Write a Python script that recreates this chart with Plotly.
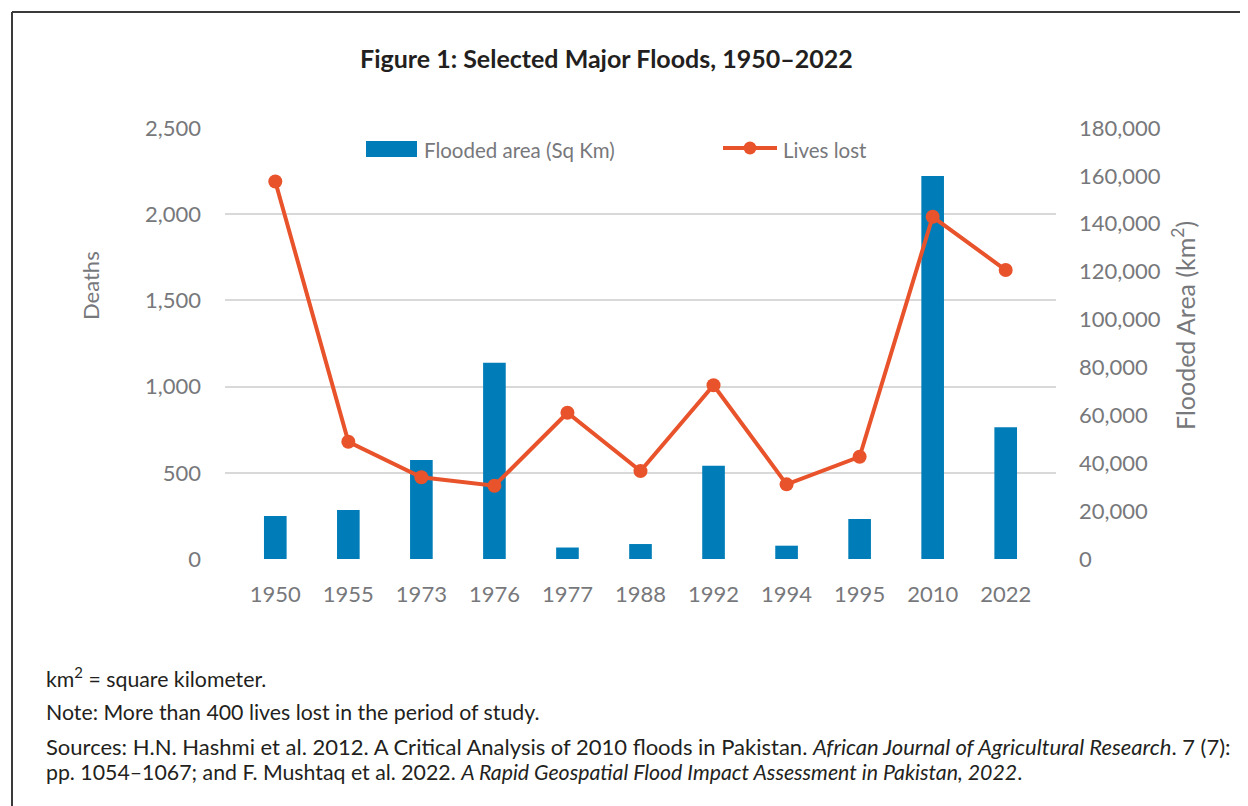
import plotly.graph_objects as go

years = ["1950", "1955", "1973", "1976", "1977", "1988", "1992", "1994", "1995", "2010", "2022"]
flooded_area = [17920, 20480, 41350, 81920, 4800, 6250, 38960, 5560, 16700, 160000, 55000]
lives_lost = [2190, 680, 474, 425, 848, 510, 1008, 433, 593, 1985, 1676]

BLUE = "#007DB8"
ORANGE = "#E9532B"
GRAY = "#77787B"
DARK = "#231F20"
FONT = "Lato"

OFF = 8  # page body margin
W, H = 1248 - OFF, 806 - OFF
L, R, T, B = 225 - OFF, 1056 - OFF, 128 - OFF, 559 - OFF


def px(x):
    return (x - OFF - L) / (R - L)


def py(y):
    return (B - (y - OFF)) / (B - T)


fig = go.Figure()
fig.add_trace(go.Bar(x=years, y=flooded_area, name="Flooded area (Sq Km)",
                     marker=dict(color=BLUE, line=dict(width=0)), yaxis="y",
                     showlegend=False))
fig.add_trace(go.Scatter(x=years, y=lives_lost, name="Lives lost", mode="lines+markers",
                         line=dict(color=ORANGE, width=4),
                         marker=dict(color=ORANGE, size=14), yaxis="y2",
                         showlegend=False))

shapes = [
    dict(type="line", xref="paper", yref="paper", x0=px(12), x1=px(12), y0=py(820), y1=py(12),
         line=dict(color="#3a3a3a", width=2)),
    dict(type="line", xref="paper", yref="paper", x0=px(12), x1=px(1260), y0=py(12), y1=py(12),
         line=dict(color="#3a3a3a", width=2)),
    dict(type="rect", xref="paper", yref="paper", x0=px(366), x1=px(417), y0=py(157), y1=py(141),
         fillcolor=BLUE, line=dict(width=0)),
    dict(type="line", xref="paper", yref="paper", x0=px(723), x1=px(777), y0=py(148), y1=py(148),
         line=dict(color=ORANGE, width=4)),
    dict(type="circle", xref="paper", yref="paper", x0=px(743.5), x1=px(756.5), y0=py(154.5), y1=py(141.5),
         fillcolor=ORANGE, line=dict(width=0)),
]

NOTE = dict(family=FONT, size=21.3, color=DARK)
annotations = [
    dict(text="<b>Figure 1: Selected Major Floods, 1950–2022</b>", xref="paper", yref="paper",
         x=px(606), y=py(58), xanchor="center", yanchor="middle", showarrow=False,
         font=dict(family=FONT, size=25, color=DARK)),
    dict(text="Flooded area (Sq Km)", xref="paper", yref="paper", x=px(422), y=py(150),
         xanchor="left", yanchor="middle", showarrow=False, font=dict(family=FONT, size=20.5, color=GRAY)),
    dict(text="Lives lost", xref="paper", yref="paper", x=px(781), y=py(150),
         xanchor="left", yanchor="middle", showarrow=False, font=dict(family=FONT, size=20.5, color=GRAY)),
    dict(text="Deaths", xref="paper", yref="paper", x=px(90), y=py(286), textangle=-90,
         xanchor="center", yanchor="middle", showarrow=False, font=dict(family=FONT, size=22, color=GRAY)),
    dict(text="Flooded Area (km<sup>2</sup>)", xref="paper", yref="paper", x=px(1183), y=py(326), textangle=-90,
         xanchor="center", yanchor="middle", showarrow=False, font=dict(family=FONT, size=25, color=GRAY)),
    dict(text="km<sup>2</sup> = square kilometer.", xref="paper", yref="paper", x=px(44), y=py(677),
         xanchor="left", yanchor="middle", showarrow=False, font=NOTE),
    dict(text="Note: More than 400 lives lost in the period of study.", xref="paper", yref="paper", x=px(44), y=py(712),
         xanchor="left", yanchor="middle", showarrow=False, font=NOTE),
    dict(text="Sources: H.N. Hashmi et al. 2012. A Critical Analysis of 2010 floods in Pakistan. "
              "<i>African Journal of Agricultural Research</i>. 7 (7):",
         xref="paper", yref="paper", x=px(44), y=py(746),
         xanchor="left", yanchor="middle", showarrow=False,
         font=dict(family=FONT, size=22, color=DARK)),
    dict(text="pp. 1054–1067; and F. Mushtaq et al. 2022. <i>A Rapid Geospatial Flood Impact Assessment in Pakistan, 2022</i>.",
         xref="paper", yref="paper", x=px(44), y=py(772),
         xanchor="left", yanchor="middle", showarrow=False, font=NOTE),
]

TICKF = dict(family=FONT, size=22, color=GRAY)
fig.update_layout(
    width=W, height=H,
    margin=dict(l=L, r=W - R, t=T, b=H - B, pad=0),
    paper_bgcolor="white", plot_bgcolor="white",
    font=dict(family=FONT, color=GRAY),
    bargap=0.69,
    xaxis=dict(type="category", showgrid=False, showline=False, ticks="",
               tickfont=TICKF, ticklabelstandoff=20, zeroline=False),
    yaxis=dict(side="right", range=[0, 180000], dtick=20000, tickformat=",",
               showgrid=False, zeroline=False, showline=False, ticks="",
               tickfont=TICKF, ticklabelstandoff=22),
    yaxis2=dict(side="left", overlaying="y", range=[0, 2500], dtick=500, tickformat=",",
                showgrid=True, gridcolor="#D9D9D9", gridwidth=1.5, zeroline=False, showline=False,
                ticks="", tickfont=TICKF, ticklabelstandoff=23),
    shapes=shapes,
    annotations=annotations,
)

fig.write_html("out.html")
